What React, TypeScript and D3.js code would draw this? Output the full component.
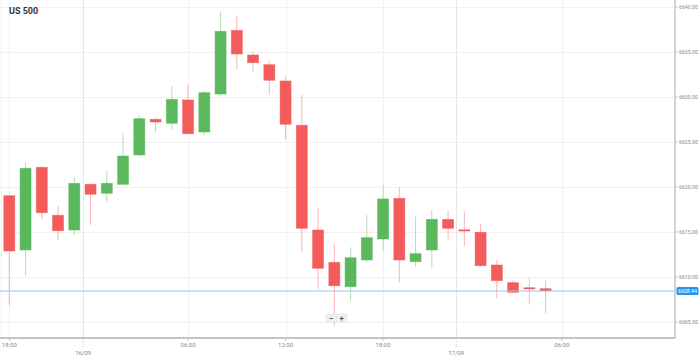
import React from "react";
import * as d3 from "d3";

const W = 699;
const H = 356;

// OHLC per hourly candle
const opens = [6619.03, 6613.0, 6622.19, 6616.86, 6615.22, 6620.3, 6619.3, 6620.3, 6623.56, 6627.52, 6627.08, 6629.67, 6626.11, 6630.33, 6637.41, 6634.67, 6633.59, 6631.78, 6626.86, 6615.22, 6611.63, 6608.92, 6611.89, 6614.22, 6618.74, 6611.7, 6613.0, 6616.41, 6615.24, 6614.97, 6611.33, 6609.37, 6608.81, 6608.7];
const highs = [6619.06, 6622.7, 6622.2, 6617.89, 6621.14, 6620.41, 6621.89, 6626.0, 6628.0, 6627.74, 6631.22, 6631.41, 6630.7, 6639.44, 6639.08, 6635.03, 6634.03, 6632.26, 6630.22, 6617.63, 6613.63, 6613.3, 6616.89, 6620.22, 6619.97, 6616.7, 6617.44, 6617.37, 6617.3, 6615.89, 6611.89, 6609.63, 6609.86, 6609.59];
const lows = [6606.89, 6610.11, 6616.44, 6614.11, 6614.67, 6615.78, 6618.37, 6620.2, 6623.37, 6626.14, 6626.41, 6625.9, 6625.74, 6630.11, 6633.08, 6632.81, 6630.26, 6625.3, 6612.81, 6608.63, 6604.59, 6607.37, 6611.63, 6612.89, 6609.37, 6611.14, 6611.03, 6614.19, 6613.44, 6611.19, 6607.63, 6608.19, 6606.97, 6605.97];
const closes = [6612.89, 6622.08, 6617.14, 6615.14, 6620.41, 6619.19, 6620.41, 6623.44, 6627.59, 6627.22, 6629.74, 6625.92, 6630.48, 6637.3, 6634.78, 6633.81, 6631.86, 6626.97, 6615.41, 6610.97, 6609.03, 6612.14, 6614.37, 6618.67, 6611.89, 6612.59, 6616.41, 6615.41, 6615.13, 6611.26, 6609.59, 6608.3, 6608.67, 6608.48];

const currentPrice = 6608.44;
const currentLabel = "6608.44";

const yTicks = [6605, 6610, 6615, 6620, 6625, 6630, 6635, 6640];
const timeTickPos = [0, 11, 17, 23, 34];
const timeTickLabels = ["18:00", "06:00", "12:00", "18:00", "06:00"];
const dateTickPos = [4.55, 27.5];
const dateTickLabels = ["16/09", "17/09"];

const PLOT_R = 675;
const PLOT_B = 338;

export default function App() {
  const x = d3.scaleLinear().domain([0, 33]).range([9.3, 545.6]);
  const y = d3.scaleLinear().domain([6605, 6640]).range([322, 7]);
  const bw = 11;
  const GREEN = "#5cb85c";
  const RED = "#f45b5b";
  const font = "Roboto, 'Open Sans', sans-serif";

  return (
    <svg width={W} height={H} style={{ position: "absolute", left: 0, top: 0, background: "#fff" }} fontFamily={font}>
      <rect x={0} y={0} width={W} height={H} fill="#fff" />
      {/* horizontal grid */}
      {yTicks.map((t) => (
        <line key={"hg" + t} x1={0} x2={PLOT_R} y1={Math.round(y(t)) + 0.5} y2={Math.round(y(t)) + 0.5} stroke="#f1f1f1" />
      ))}
      {/* vertical grid */}
      {timeTickPos.map((p, i) => (
        <line key={"vg" + i} x1={Math.round(x(p)) + 0.5} x2={Math.round(x(p)) + 0.5} y1={0} y2={PLOT_B} stroke="#f1f1f1" />
      ))}
      {dateTickPos.map((p, i) => (
        <line key={"vd" + i} x1={Math.round(x(p)) + 0.5} x2={Math.round(x(p)) + 0.5} y1={0} y2={PLOT_B} stroke="#e6e6e6" />
      ))}
      <line x1={1.5} x2={1.5} y1={0} y2={PLOT_B} stroke="#f1f1f1" />

      {/* candles */}
      {opens.map((o, i) => {
        const c = closes[i];
        const up = c >= o;
        const col = up ? GREEN : RED;
        const cx = x(i);
        const top = y(Math.max(o, c));
        const bot = y(Math.min(o, c));
        return (
          <g key={"c" + i}>
            <line x1={cx} x2={cx} y1={y(highs[i])} y2={y(lows[i])} stroke={col} strokeOpacity={0.45} strokeWidth={1} />
            <rect x={cx - bw / 2} y={top} width={bw} height={Math.max(1.2, bot - top)} fill={col} stroke={col} strokeOpacity={0.6} strokeWidth={0.8} />
          </g>
        );
      })}

      {/* current price line */}
      <line x1={0} x2={PLOT_R} y1={y(currentPrice)} y2={y(currentPrice)} stroke="#90c8f0" strokeWidth={1} />

      {/* axes */}
      <line x1={PLOT_R} x2={PLOT_R} y1={0} y2={PLOT_B + 1} stroke="#c4c4c4" strokeWidth={1.5} />
      <line x1={0} x2={PLOT_R} y1={PLOT_B} y2={PLOT_B} stroke="#c4c4c4" strokeWidth={2} />

      {/* y tick labels */}
      {yTicks.map((t) => (
        <g key={"yt" + t}>
          <line x1={PLOT_R} x2={PLOT_R + 3} y1={y(t)} y2={y(t)} stroke="#bbb" strokeWidth={0.8} />
          <text x={PLOT_R + 4} y={y(t)} dy="0.35em" fontSize={5.2} fill="#888">
            {t.toFixed(2)}
          </text>
        </g>
      ))}

      {/* current price label */}
      <rect x={PLOT_R + 1.5} y={y(currentPrice) - 4} width={22} height={8} rx={1.5} fill="#2196f3" />
      <text x={PLOT_R + 12.5} y={y(currentPrice)} dy="0.35em" fontSize={5.2} fill="#fff" textAnchor="middle">
        {currentLabel}
      </text>

      {/* x tick labels */}
      {timeTickPos.map((p, i) => (
        <g key={"xt" + i}>
          <line x1={x(p)} x2={x(p)} y1={PLOT_B} y2={PLOT_B + 3} stroke="#bbb" strokeWidth={0.8} />
          <text x={x(p)} y={345} dy="0.35em" fontSize={6} fill="#888" textAnchor="middle">
            {timeTickLabels[i]}
          </text>
        </g>
      ))}
      {dateTickPos.map((p, i) => (
        <g key={"xd" + i}>
          <line x1={x(p)} x2={x(p)} y1={PLOT_B} y2={PLOT_B + 10} stroke="#bbb" strokeWidth={0.8} strokeDasharray="1,1" />
          <text x={x(p)} y={352.5} dy="0.35em" fontSize={6} fill="#888" textAnchor="middle">
            {dateTickLabels[i]}
          </text>
        </g>
      ))}

      {/* zoom buttons */}
      <rect x={326} y={314} width={10.5} height={8} fill="#f0f0f0" stroke="#e2e2e2" strokeWidth={0.5} />
      <rect x={336.5} y={314} width={10.5} height={8} fill="#f0f0f0" stroke="#e2e2e2" strokeWidth={0.5} />
      <text x={331.2} y={318} dy="0.35em" fontSize={8} fill="#555" textAnchor="middle" fontWeight="bold">−</text>
      <text x={341.8} y={318} dy="0.35em" fontSize={8} fill="#555" textAnchor="middle" fontWeight="bold">+</text>

      {/* title */}
      <text x={9} y={11} dy="0.35em" fontSize={9} fontWeight="bold" fill="#333">
        US 500
      </text>
    </svg>
  );
}
